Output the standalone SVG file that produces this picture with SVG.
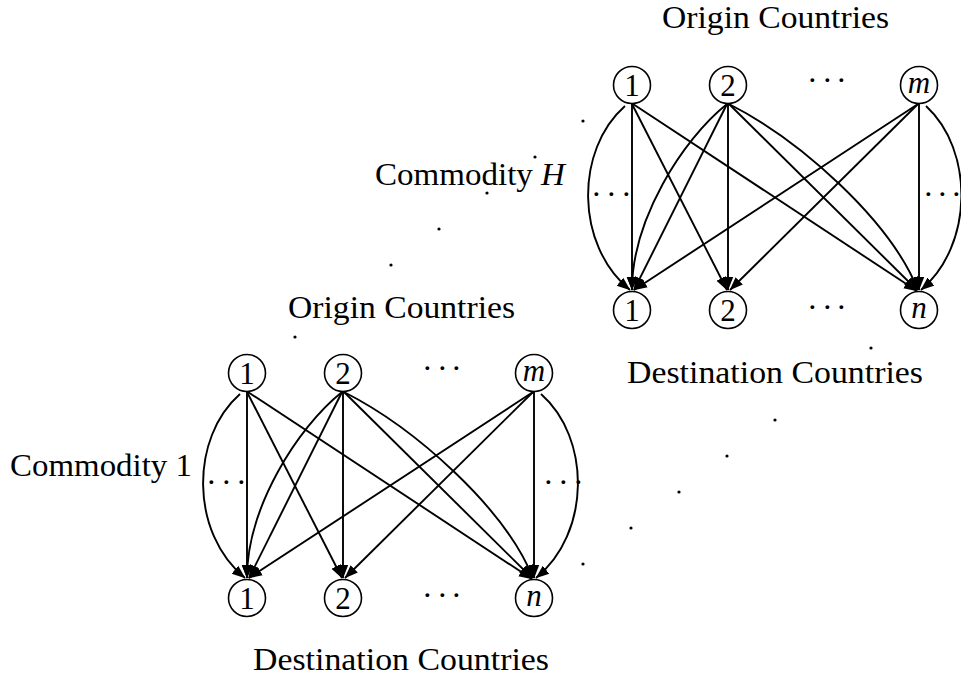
<svg xmlns="http://www.w3.org/2000/svg" width="961" height="681" viewBox="0 0 961 681">
<style>
  text { font-family: "Liberation Serif", "DejaVu Serif", serif; fill: #000; }
  .lbl { font-size: 31px; }
  .num { font-size: 31px; text-anchor: middle; }
  .it { font-style: italic; }
  .dots { font-size: 32px; }
  .node circle { fill: #fff; stroke: #000; stroke-width: 1.6; }
  .edge { fill: none; stroke: #000; stroke-width: 1.9; marker-end: url(#arr); }
  .dd { fill: #000; }
</style>
<defs>
  <marker id="arr" markerWidth="14" markerHeight="12" refX="13" refY="6" orient="auto" markerUnits="userSpaceOnUse">
    <path d="M0,0.8 L13.5,6 L0,11.2 z" fill="#000"/>
  </marker>
</defs>
<rect width="961" height="681" fill="#fff"/>

<!-- diagonal dots between the two commodity layers -->
<g id="layer-dots">
  <circle class="dd" cx="295" cy="337" r="1.6"/>
  <circle class="dd" cx="391" cy="265" r="1.6"/>
  <circle class="dd" cx="439" cy="229" r="1.6"/>
  <circle class="dd" cx="487" cy="193" r="1.6"/>
  <circle class="dd" cx="535" cy="157" r="1.6"/>
  <circle class="dd" cx="583" cy="121" r="1.6"/>
  <circle class="dd" cx="583" cy="564" r="1.6"/>
  <circle class="dd" cx="631" cy="528" r="1.6"/>
  <circle class="dd" cx="679" cy="492" r="1.6"/>
  <circle class="dd" cx="727" cy="456" r="1.6"/>
  <circle class="dd" cx="775" cy="420" r="1.6"/>
  <circle class="dd" cx="871" cy="348" r="1.6"/>
</g>

<!-- Commodity H (top layer) -->
<g id="connectors-H">
  <path class="edge" d="M632,104 V290"/>
  <path class="edge" d="M632,104 L727,290"/>
  <path class="edge" d="M633,104 L917,291"/>
  <path class="edge" d="M625,106 C575,150 575,245 630,290"/>
  <path class="edge" d="M727,104 C682,140 632,220 632,290"/>
  <path class="edge" d="M727,104 L634,290"/>
  <path class="edge" d="M728,104 V290"/>
  <path class="edge" d="M729,104 L917,290"/>
  <path class="edge" d="M729,104 C800,140 890,220 918,290"/>
  <path class="edge" d="M918,104 L634,290"/>
  <path class="edge" d="M918,104 L730,290"/>
  <path class="edge" d="M919,104 V290"/>
  <path class="edge" d="M926,106 C974,150 974,245 921,290"/>
</g>
<g id="H-origin-1" class="node"><circle cx="632" cy="85" r="18.5"/><text class="num" x="632" y="95.5">1</text></g>
<g id="H-origin-2" class="node"><circle cx="728" cy="85" r="18.5"/><text class="num" x="728" y="95.5">2</text></g>
<g id="H-origin-m" class="node"><circle cx="919" cy="85" r="18.5"/><text class="num it" x="919" y="93">m</text></g>
<g id="H-dest-1" class="node"><circle cx="632" cy="310" r="18.5"/><text class="num" x="632" y="320.5">1</text></g>
<g id="H-dest-2" class="node"><circle cx="728" cy="310" r="18.5"/><text class="num" x="728" y="320.5">2</text></g>
<g id="H-dest-n" class="node"><circle cx="919" cy="310" r="18.5"/><text class="num it" x="919" y="318">n</text></g>
<g id="H-labels">
  <text class="lbl" x="662" y="28" textLength="227" lengthAdjust="spacingAndGlyphs">Origin Countries</text>
  <text class="lbl" x="627" y="383" textLength="296" lengthAdjust="spacingAndGlyphs">Destination Countries</text>
  <text class="lbl" x="375" y="185" textLength="190" lengthAdjust="spacingAndGlyphs">Commodity <tspan class="it">H</tspan></text>
  <text class="dots" x="807 822 836" y="91">···</text>
  <text class="dots" x="807 822 836" y="318">···</text>
  <text class="dots" x="591 606 621" y="205">···</text>
  <text class="dots" x="923 937 951" y="205">···</text>
</g>

<!-- Commodity 1 (bottom layer) -->
<g id="connectors-1" transform="translate(-385,288)">
  <path class="edge" d="M632,104 V290"/>
  <path class="edge" d="M632,104 L727,290"/>
  <path class="edge" d="M633,104 L917,291"/>
  <path class="edge" d="M625,106 C575,150 575,245 630,290"/>
  <path class="edge" d="M727,104 C682,140 632,220 632,290"/>
  <path class="edge" d="M727,104 L634,290"/>
  <path class="edge" d="M728,104 V290"/>
  <path class="edge" d="M729,104 L917,290"/>
  <path class="edge" d="M729,104 C800,140 890,220 918,290"/>
  <path class="edge" d="M918,104 L634,290"/>
  <path class="edge" d="M918,104 L730,290"/>
  <path class="edge" d="M919,104 V290"/>
  <path class="edge" d="M926,106 C976,150 976,245 921,290"/>
</g>
<g id="C1-origin-1" class="node"><circle cx="247" cy="373" r="18.5"/><text class="num" x="247" y="383.5">1</text></g>
<g id="C1-origin-2" class="node"><circle cx="343" cy="373" r="18.5"/><text class="num" x="343" y="383.5">2</text></g>
<g id="C1-origin-m" class="node"><circle cx="534" cy="373" r="18.5"/><text class="num it" x="534" y="381">m</text></g>
<g id="C1-dest-1" class="node"><circle cx="247" cy="598" r="18.5"/><text class="num" x="247" y="608.5">1</text></g>
<g id="C1-dest-2" class="node"><circle cx="343" cy="598" r="18.5"/><text class="num" x="343" y="608.5">2</text></g>
<g id="C1-dest-n" class="node"><circle cx="534" cy="598" r="18.5"/><text class="num it" x="534" y="606">n</text></g>
<g id="C1-labels">
  <text class="lbl" x="288" y="318" textLength="227" lengthAdjust="spacingAndGlyphs">Origin Countries</text>
  <text class="lbl" x="253" y="670" textLength="296" lengthAdjust="spacingAndGlyphs">Destination Countries</text>
  <text class="lbl" x="10" y="476" textLength="182" lengthAdjust="spacingAndGlyphs">Commodity 1</text>
  <text class="dots" x="422 437 451" y="379">···</text>
  <text class="dots" x="422 437 451" y="606">···</text>
  <text class="dots" x="206 221 236" y="493">···</text>
  <text class="dots" x="543 558 573" y="493">···</text>
</g>
</svg>
